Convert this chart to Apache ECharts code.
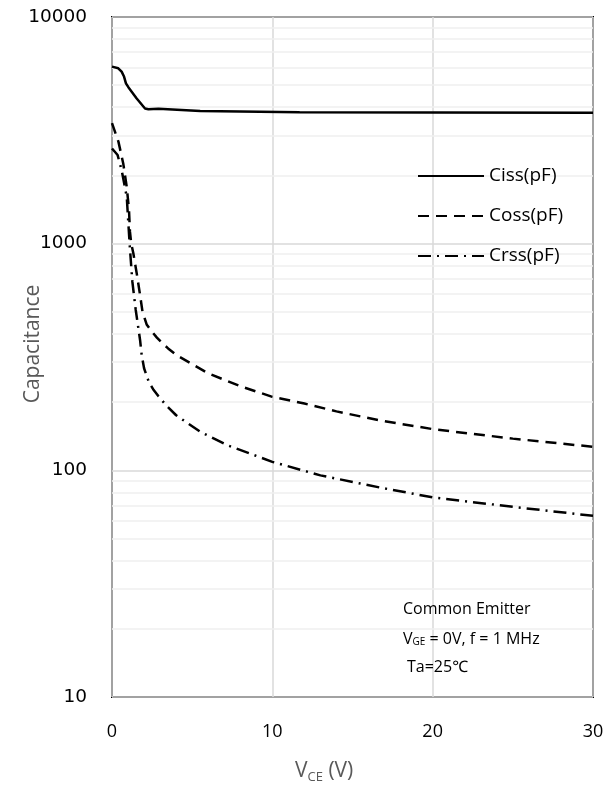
<!DOCTYPE html>
<html>
<head>
<meta charset="utf-8">
<script src="https://cdn.jsdelivr.net/npm/echarts@6/dist/echarts.min.js"></script>
<style>
html,body{margin:0;padding:0;background:#fff;}
#chart{width:616px;height:796px;}
</style>
</head>
<body>
<div id="chart"></div>
<script>
// ---- data ----
const cissV = [0, 0.39, 0.6, 0.75, 0.87, 1.02, 1.54, 2.06, 2.27, 2.9, 5.5, 11.7, 20, 30];
const cissC = [6040, 5940, 5740, 5460, 5100, 4900, 4370, 3950, 3920, 3940, 3850, 3800, 3790, 3780];

const cossV = [0, 0.4, 0.7, 0.92, 1.06, 1.12, 1.2, 1.33, 1.54, 1.75, 1.9, 2.16, 2.5, 2.8, 3.1, 3.5, 4, 6, 8, 10, 12, 14, 16.7, 20, 25, 30];
const cossC = [3400, 2820, 2260, 1780, 1410, 1130, 1000, 908, 741, 594, 502, 440, 408, 385, 366, 345, 323, 268, 235, 211, 197, 182, 166, 152, 138, 127];

const crssV = [0, 0.35, 0.6, 0.92, 1.02, 1.12, 1.27, 1.48, 1.75, 1.85, 2.0, 2.3, 2.6, 2.9, 3.4, 4, 5.5, 7.2, 10, 13, 16.7, 20, 25, 30];
const crssC = [2630, 2460, 2110, 1610, 1230, 950, 680, 510, 376, 323, 282, 245, 226, 212, 193, 175, 148, 129, 109, 95, 84, 76, 69, 63];

const seriesNames = ['Ciss(pF)', 'Coss(pF)', 'Crss(pF)'];
const yTickLabels = [10, 100, 1000, 10000];
const xTickLabels = [0, 10, 20, 30];
const minorGridValues = [20, 30, 40, 50, 60, 70, 80, 90, 200, 300, 400, 500, 600, 700, 800, 900, 2000, 3000, 4000, 5000, 6000, 7000, 8000, 9000];

function pairs(xs, ys) { return xs.map((x, i) => [x, ys[i]]); }

const FONT = '"Open Sans", "Noto Sans", sans-serif';
const chart = echarts.init(document.getElementById('chart'), null, {renderer: 'canvas'});

const lineCommon = {
  type: 'line',
  showSymbol: false,
  symbol: 'none',
  smooth: false,
  z: 3
};

chart.setOption({
  animation: false,
  backgroundColor: '#fff',
  grid: {
    left: 112, right: 23, top: 17, bottom: 99,
    show: true, borderColor: '#000', borderWidth: 2, backgroundColor: 'transparent'
  },
  legend: {
    data: seriesNames,
    orient: 'vertical',
    left: 417, top: 165, padding: 0,
    itemWidth: 66, itemHeight: 22, itemGap: 18,
    itemStyle: {opacity: 0},
    textStyle: {fontSize: 19, lineHeight: 22, color: '#000', fontFamily: FONT}
  },
  xAxis: {
    type: 'value', min: 0, max: 30, interval: 10,
    axisLine: {show: false}, axisTick: {show: false},
    axisLabel: {
      fontSize: 18, color: '#000', fontFamily: FONT, margin: 26,
      formatter: v => xTickLabels.includes(v) ? String(v) : ''
    },
    splitLine: {show: true, lineStyle: {color: '#d9d9d9', width: 1.5}}
  },
  yAxis: {
    type: 'log', logBase: 10, min: 10, max: 10000,
    axisLine: {show: false}, axisTick: {show: false},
    axisLabel: {
      fontSize: 18.5, color: '#000', fontFamily: '"DejaVu Sans", sans-serif', margin: 25,
      formatter: v => yTickLabels.includes(Math.round(v)) ? String(Math.round(v)) : ''
    },
    splitLine: {show: true, lineStyle: {color: '#d9d9d9', width: 1.5}}
  },
  graphic: [
    {
      type: 'text', x: 33, y: 344, rotation: Math.PI / 2, z: 10,
      style: {text: 'Capacitance', fontSize: 21, fill: '#595959', fontFamily: FONT, align: 'center', verticalAlign: 'middle'}
    },
    {
      type: 'text', left: 295, top: 761, z: 10,
      style: {
        rich: {
          v: {fontSize: 21, fill: '#595959', fontFamily: FONT},
          s: {fontSize: 13, fill: '#595959', fontFamily: FONT, verticalAlign: 'bottom', padding: [11, 0, 0, 0]}
        },
        text: '{v|V}{s|CE}{v| (V)}'
      }
    },
    {
      type: 'text', left: 403, top: 601, z: 10,
      style: {text: 'Common Emitter', fontSize: 16, fill: '#000', fontFamily: FONT}
    },
    {
      type: 'text', left: 403, top: 631, z: 10,
      style: {
        rich: {
          n: {fontSize: 16, fill: '#000', fontFamily: FONT},
          s: {fontSize: 10, fill: '#000', fontFamily: FONT, padding: [7, 0, 0, 0]}
        },
        text: '{n|V}{s|GE}{n| = 0V, f = 1 MHz}'
      }
    },
    {
      type: 'text', left: 407, top: 659, z: 10,
      style: {text: 'Ta=25℃', fontSize: 16, fill: '#000', fontFamily: FONT}
    }
  ],
  series: [
    {
      name: 'minorGrid', type: 'line', data: [], z: 0, silent: true,
      markLine: {
        z: 0, silent: true, symbol: 'none', label: {show: false},
        lineStyle: {color: '#efefef', width: 1.5, type: 'solid'},
        data: minorGridValues.map(v => ({yAxis: v}))
      }
    },
    Object.assign({}, lineCommon, {
      name: seriesNames[0], data: pairs(cissV, cissC),
      lineStyle: {color: '#000', width: 2.5, type: 'solid'}, itemStyle: {color: '#000'}
    }),
    Object.assign({}, lineCommon, {
      name: seriesNames[1], data: pairs(cossV, cossC),
      lineStyle: {color: '#000', width: 2.5, type: [11, 7]}, itemStyle: {color: '#000'}
    }),
    Object.assign({}, lineCommon, {
      name: seriesNames[2], data: pairs(crssV, crssC),
      lineStyle: {color: '#000', width: 2.5, type: [13, 6, 2, 6]}, itemStyle: {color: '#000'}
    })
  ]
});
</script>
</body>
</html>
